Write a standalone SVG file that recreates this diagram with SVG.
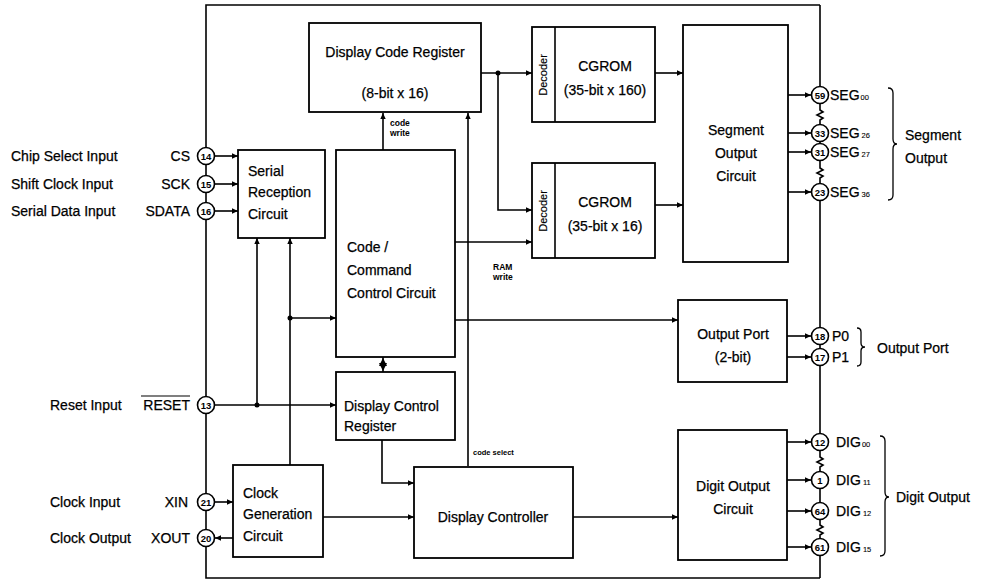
<svg xmlns="http://www.w3.org/2000/svg" width="990" height="583" viewBox="0 0 990 583">
<defs>
<marker id="arr" viewBox="0 0 10 10" refX="10" refY="5" markerWidth="8" markerHeight="6" orient="auto" markerUnits="userSpaceOnUse"><path d="M0,0.5 L10,5 L0,9.5 z" fill="#000"/></marker>
</defs>
<style>
.box{fill:#fff;stroke:#000;stroke-width:1.8}
.ln{fill:none;stroke:#000;stroke-width:1.6}
.a{fill:none;stroke:#000;stroke-width:1.6;marker-end:url(#arr)}
.t{font-family:"Liberation Sans",Arial,sans-serif;font-size:14px;fill:#000;stroke:#000;stroke-width:0.25}
.m{text-anchor:middle}
.e{text-anchor:end}
.s{font-family:"Liberation Sans",Arial,sans-serif;font-size:8.5px;font-weight:bold;fill:#000}
.sub{font-size:7.5px;stroke-width:0.1}
.pin{fill:#fff;stroke:#000;stroke-width:1.6}
.pn{font-family:"Liberation Sans",Arial,sans-serif;font-size:9.5px;font-weight:bold;fill:#000;text-anchor:middle}
.dot{fill:#000}
</style>
<rect width="990" height="583" fill="#fff"/>

<g id="frame">
<path class="ln" d="M820,5 H206 V578 H820"/>
<path class="ln" d="M820,5 V95 M820,103 V110 l3,2 l-6,3 l6,3 l-3,2 V133 M820,133 V152 M820,160 V168 l3,2 l-6,3 l6,3 l-3,2 V192 M820,192 V442 M820,450 V457 l3,2 l-6,3 l6,3 l-3,2 V480 M820,480 V511 M820,519 V525 l3,2 l-6,3 l6,3 l-3,2 V547 M820,547 V578"/>
</g>

<g id="connectors">
<path class="a" d="M481,73 H532"/>
<path class="a" d="M498,73 V210 H532"/>
<circle class="dot" cx="498" cy="73" r="2.5"/>
<path class="a" d="M655,73 H683"/>
<path class="a" d="M655,205 H683"/>
<path class="a" d="M788,95 H811"/>
<path class="a" d="M788,133 H811"/>
<path class="a" d="M788,152 H811"/>
<path class="a" d="M788,192 H811"/>
<path class="a" d="M383,150 V113"/>
<path class="a" d="M468,466 V113"/>
<path class="a" d="M455,242 H532"/>
<path class="a" d="M455,320 H678"/>
<path class="a" d="M787,336 H811"/>
<path class="a" d="M787,357 H811"/>
<path class="ln" d="M383,357 V372"/>
<path d="M379,363 L383,371 L387,363 z" fill="#000"/>
<path d="M379,366 L383,358 L387,366 z" fill="#000"/>
<path class="a" d="M214,156 H238"/>
<path class="a" d="M214,184 H238"/>
<path class="a" d="M214,211 H238"/>
<path class="a" d="M214,405 H336"/>
<path class="a" d="M257,405 V238"/>
<circle class="dot" cx="257" cy="405" r="2.5"/>
<path class="a" d="M290,465 V238"/>
<path class="a" d="M290,318 H336"/>
<circle class="dot" cx="290" cy="318" r="2.5"/>
<path class="a" d="M382,440 V483 H414"/>
<path class="a" d="M323,517 H414"/>
<path class="a" d="M573,517 H678"/>
<path class="a" d="M787,442 H811"/>
<path class="a" d="M787,480 H811"/>
<path class="a" d="M787,511 H811"/>
<path class="a" d="M787,547 H811"/>
<path class="a" d="M214,502 H233"/>
<path class="a" d="M233,538 H215"/>
<text class="s" x="390" y="126">code</text>
<text class="s" x="390" y="136">write</text>
<text class="s" x="493" y="270">RAM</text>
<text class="s" x="493" y="280">write</text>
<text class="s" x="473" y="455" style="font-size:7.5px">code select</text>
</g>

<g id="dcr">
<rect class="box" x="309" y="23" width="172" height="89"/>
<text class="t m" x="395" y="57">Display Code Register</text>
<text class="t m" x="395" y="98">(8-bit x 16)</text>
</g>
<g id="cgrom1">
<rect class="box" x="532" y="27" width="123" height="95"/>
<line class="ln" x1="555" y1="27" x2="555" y2="122"/>
<text class="t m" transform="translate(547,75) rotate(-90)" style="font-size:11px;stroke-width:0.15">Decoder</text>
<text class="t m" x="605" y="71">CGROM</text>
<text class="t m" x="605" y="95">(35-bit x 160)</text>
</g>
<g id="cgrom2">
<rect class="box" x="532" y="163" width="123" height="95"/>
<line class="ln" x1="555" y1="163" x2="555" y2="258"/>
<text class="t m" transform="translate(547,211) rotate(-90)" style="font-size:11px;stroke-width:0.15">Decoder</text>
<text class="t m" x="605" y="207">CGROM</text>
<text class="t m" x="605" y="231">(35-bit x 16)</text>
</g>
<g id="segment">
<rect class="box" x="683" y="25" width="105" height="237"/>
<text class="t m" x="736" y="135">Segment</text>
<text class="t m" x="736" y="158">Output</text>
<text class="t m" x="736" y="181">Circuit</text>
</g>
<g id="serial">
<rect class="box" x="238" y="150" width="87" height="88"/>
<text class="t" x="248" y="176">Serial</text>
<text class="t" x="248" y="197">Reception</text>
<text class="t" x="248" y="219">Circuit</text>
</g>
<g id="ccc">
<rect class="box" x="336" y="150" width="119" height="207"/>
<text class="t" x="347" y="252">Code /</text>
<text class="t" x="347" y="275">Command</text>
<text class="t" x="347" y="298">Control Circuit</text>
</g>
<g id="dctrlreg">
<rect class="box" x="336" y="372" width="119" height="68"/>
<text class="t" x="344" y="411">Display Control</text>
<text class="t" x="344" y="431">Register</text>
</g>
<g id="clockgen">
<rect class="box" x="233" y="465" width="90" height="92"/>
<text class="t" x="243" y="498">Clock</text>
<text class="t" x="243" y="519">Generation</text>
<text class="t" x="243" y="541">Circuit</text>
</g>
<g id="dispctrl">
<rect class="box" x="414" y="467" width="159" height="91"/>
<text class="t m" x="493" y="522">Display Controller</text>
</g>
<g id="outport">
<rect class="box" x="678" y="300" width="109" height="82"/>
<text class="t m" x="733" y="339">Output Port</text>
<text class="t m" x="733" y="362">(2-bit)</text>
</g>
<g id="digit">
<rect class="box" x="678" y="430" width="109" height="130"/>
<text class="t m" x="733" y="491">Digit Output</text>
<text class="t m" x="733" y="514">Circuit</text>
</g>

<g id="left-pins">
<text class="t" x="11" y="161">Chip Select Input</text>
<text class="t e" x="190" y="161">CS</text>
<text class="t" x="11" y="189">Shift Clock Input</text>
<text class="t e" x="190" y="189">SCK</text>
<text class="t" x="11" y="216">Serial Data Input</text>
<text class="t e" x="190" y="216">SDATA</text>
<text class="t" x="50" y="410">Reset Input</text>
<text class="t e" x="190" y="410">RESET</text>
<line class="ln" x1="141" y1="396" x2="190" y2="396" style="stroke-width:1.2"/>
<text class="t" x="50" y="507">Clock Input</text>
<text class="t e" x="188" y="507">XIN</text>
<text class="t" x="50" y="543">Clock Output</text>
<text class="t e" x="190" y="543">XOUT</text>
<circle class="pin" cx="206" cy="156" r="8.5"/><text class="pn" x="206" y="159.5">14</text>
<circle class="pin" cx="206" cy="184" r="8.5"/><text class="pn" x="206" y="187.5">15</text>
<circle class="pin" cx="206" cy="211" r="8.5"/><text class="pn" x="206" y="214.5">16</text>
<circle class="pin" cx="206" cy="405" r="8.5"/><text class="pn" x="206" y="408.5">13</text>
<circle class="pin" cx="206" cy="502" r="8.5"/><text class="pn" x="206" y="505.5">21</text>
<circle class="pin" cx="206" cy="538" r="8.5"/><text class="pn" x="206" y="541.5">20</text>
</g>

<g id="right-pins">
<circle class="pin" cx="820" cy="95" r="8.5"/><text class="pn" x="820" y="98.5">59</text>
<circle class="pin" cx="820" cy="133" r="8.5"/><text class="pn" x="820" y="136.5">33</text>
<circle class="pin" cx="820" cy="152" r="8.5"/><text class="pn" x="820" y="155.5">31</text>
<circle class="pin" cx="820" cy="192" r="8.5"/><text class="pn" x="820" y="195.5">23</text>
<circle class="pin" cx="820" cy="336" r="8.5"/><text class="pn" x="820" y="339.5">18</text>
<circle class="pin" cx="820" cy="357" r="8.5"/><text class="pn" x="820" y="360.5">17</text>
<circle class="pin" cx="820" cy="442" r="8.5"/><text class="pn" x="820" y="445.5">12</text>
<circle class="pin" cx="820" cy="480" r="8.5"/><text class="pn" x="820" y="483.5">1</text>
<circle class="pin" cx="820" cy="511" r="8.5"/><text class="pn" x="820" y="514.5">64</text>
<circle class="pin" cx="820" cy="547" r="8.5"/><text class="pn" x="820" y="550.5">61</text>
<text class="t" x="830" y="100">SEG<tspan class="sub" dx="1">00</tspan></text>
<text class="t" x="830" y="138">SEG<tspan class="sub" dx="2">26</tspan></text>
<text class="t" x="830" y="157">SEG<tspan class="sub" dx="2">27</tspan></text>
<text class="t" x="830" y="197">SEG<tspan class="sub" dx="2">36</tspan></text>
<path class="ln" d="M888,88 q5,0 5,5 v46 q0,5 4,5 q-4,0 -4,5 v46 q0,5 -5,5" style="stroke-width:1.3"/>
<text class="t" x="905" y="140">Segment</text>
<text class="t" x="905" y="163">Output</text>
<text class="t" x="832" y="341">P0</text>
<text class="t" x="832" y="362">P1</text>
<path class="ln" d="M857,328 q4,0 4,4 v11 q0,4 4,4 q-4,0 -4,4 v11 q0,4 -4,4" style="stroke-width:1.3"/>
<text class="t" x="877" y="353">Output Port</text>
<text class="t" x="836" y="447">DIG<tspan class="sub" dx="1">00</tspan></text>
<text class="t" x="836" y="485">DIG<tspan class="sub" dx="2">11</tspan></text>
<text class="t" x="836" y="516">DIG<tspan class="sub" dx="2">12</tspan></text>
<text class="t" x="836" y="552">DIG<tspan class="sub" dx="2">15</tspan></text>
<path class="ln" d="M880,436 q5,0 5,5 v51 q0,5 4,5 q-4,0 -4,5 v49 q0,5 -5,5" style="stroke-width:1.3"/>
<text class="t" x="896" y="502">Digit Output</text>
</g>
</svg>
